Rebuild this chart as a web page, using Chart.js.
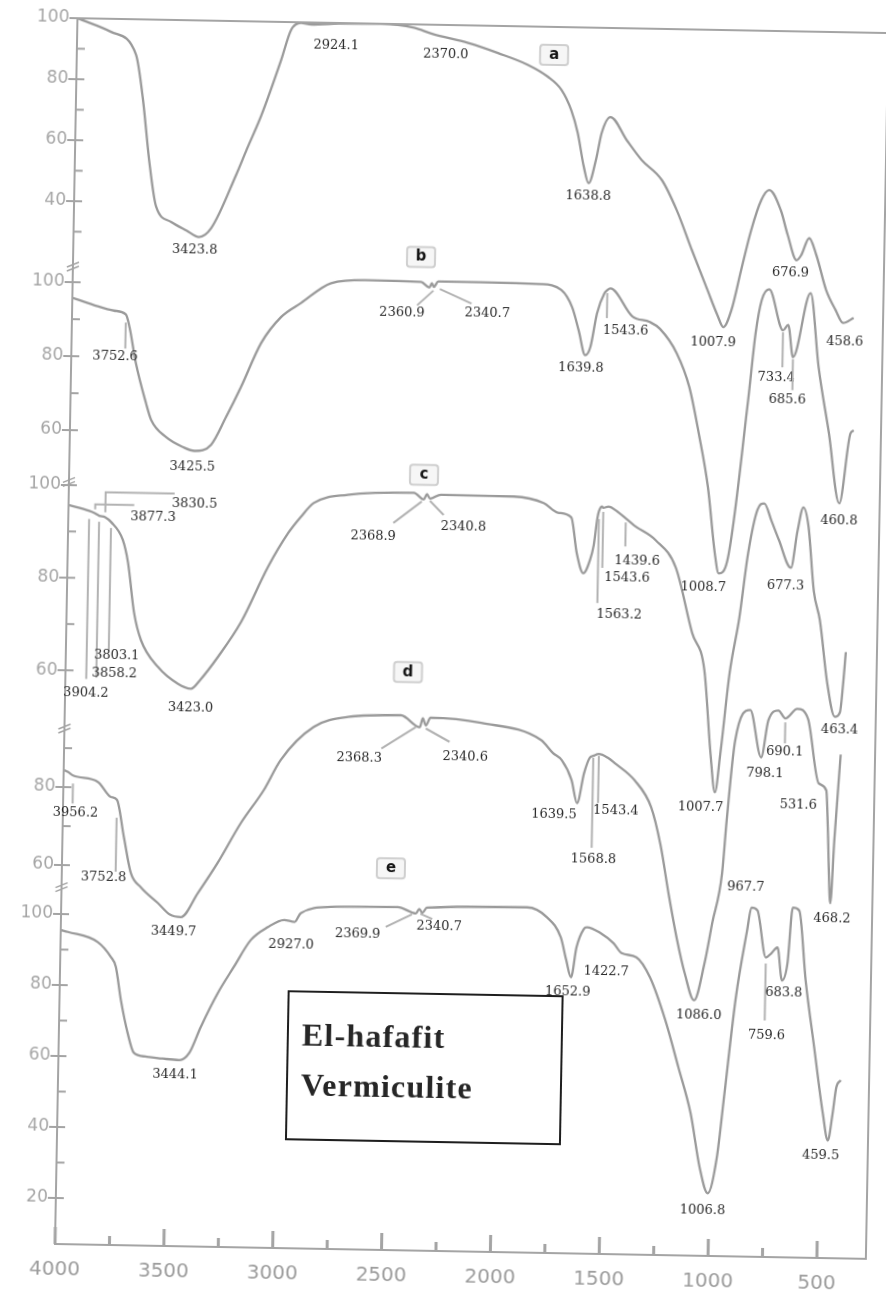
<!DOCTYPE html>
<html>
<head>
<meta charset="utf-8">
<title>FTIR spectra - El-hafafit vermiculite</title>
<script src="https://cdn.jsdelivr.net/npm/chart.js@4.4.1/dist/chart.umd.min.js"></script>
<style>
  html, body { margin: 0; padding: 0; background: #fff; overflow: hidden; }
  #wrap {
    position: relative; width: 886px; height: 1294px;
    transform: rotate(1.05deg); transform-origin: 443px 647px;
  }
  canvas { display: block; }
  #sample {
    position: absolute; left: 294px; top: 993px; width: 276px; height: 150px;
    box-sizing: border-box; border: 2px solid #1e1e1e;
    padding: 17px 0 0 13px;
    font: bold 32px "Liberation Serif", serif; line-height: 50px;
    color: #262626; letter-spacing: 1.2px;
  }
</style>
</head>
<body>
<div id="wrap">
  <canvas id="ftir" width="886" height="1294"></canvas>
  <div id="sample">El-hafafit<br>Vermiculite</div>
</div>
<script>
// --- Spectra (wavenumber cm-1 / transmittance %) ---
const waveA = [4000, 3844, 3728, 3692, 3659, 3623, 3553, 3480, 3423.8, 3368, 3258, 3212, 3147, 3061, 3018, 2973, 2924.1, 2800, 2605, 2453,
  2370.0, 2203, 2066, 1927, 1834, 1771, 1725, 1693, 1662, 1638.8, 1606, 1583, 1544, 1467, 1397, 1303, 1232, 1159, 1084, 1036,
  1007.9, 972, 931, 888, 844, 808, 754, 720, 676.9, 656, 621, 587, 539, 494, 458.6, 410];
const transA = [100, 95.7, 88.4, 73.6, 54, 38.7, 33.8, 31, 29, 32, 49.6, 57.9, 69.3, 87.5, 97.4, 99.8, 99.3, 99.8, 100, 98.9,
  97, 94.2, 91.1, 87.4, 83.6, 79.4, 72.9, 65.4, 54.3, 49, 57, 65.5, 70.8, 63.3, 56.9, 50.5, 40.7, 27.7, 14.7, 6.5,
  2.6, 8.3, 21.4, 34.6, 44.5, 47.8, 41.3, 33.2, 25, 26.7, 32.3, 26.8, 15.4, 8.9, 4.7, 6.4];

const waveB = [4000, 3900, 3807, 3752.6, 3734, 3703, 3653, 3628, 3558, 3480, 3425.5, 3351, 3284, 3218, 3129, 3040, 2949, 2813, 2658, 2400,
  2360.9, 2350, 2340.7, 2321, 2120, 1850, 1755, 1704, 1672, 1639.8, 1617, 1589, 1557, 1543.6, 1530, 1426, 1346, 1299, 1220, 1159,
  1112, 1065, 1028, 1008.7, 970, 888, 859, 834, 800, 733.4, 710, 685.6, 610, 567, 514, 460.8, 415, 400];
const transB = [95.8, 93.9, 92.5, 91.5, 87.9, 78.5, 67.7, 63.2, 58.6, 56, 55, 56.7, 64.3, 72.5, 84.5, 91.6, 95.5, 101, 102, 101.8,
  100.3, 101.5, 100.5, 102, 102, 101.8, 100.3, 95.7, 89.5, 82.8, 85, 94.2, 99.6, 100.5, 101, 93.5, 92.1, 90.3, 83.8, 74.7,
  62.3, 47.7, 29.9, 24.5, 28, 71.4, 89.6, 98.5, 101.5, 90.5, 92, 83.3, 100.7, 80.7, 62.9, 44, 63, 63.8];

const waveC = [4000, 3904.2, 3877.3, 3858.2, 3830.5, 3803.1, 3748, 3722, 3690, 3656, 3576, 3482, 3423.0, 3380, 3301, 3198, 3079, 2989, 2933, 2874,
  2719, 2415, 2368.9, 2355, 2340.8, 2291, 1956, 1818, 1752, 1690, 1662, 1630, 1600, 1585, 1570, 1563.2, 1550, 1543.6, 1520, 1480,
  1439.6, 1400, 1300, 1206, 1125, 1066, 1031, 1007.7, 985, 950, 910, 875, 835, 805, 770, 735, 677.3, 650, 625, 600,
  570, 540, 500, 463.4, 440, 428, 418];
const transC = [95.7, 94.5, 94, 93.5, 93.2, 92.2, 88.4, 83.5, 72.7, 66.8, 61.1, 57.5, 56.5, 58.5, 63.5, 71.1, 83.1, 90.5, 94, 97.1,
  99, 99.7, 98.3, 99.5, 98.5, 99.4, 99.3, 98, 96, 95, 87.3, 83, 86, 89, 95, 96.5, 97.5, 97.2, 97.5, 96.5,
  95, 93.5, 90.4, 84.6, 70.5, 62.5, 44.6, 36.2, 45, 62, 74, 88, 97.5, 98.8, 95, 91, 85, 93, 98.1, 94,
  80, 73.8, 60, 53, 54, 60, 67];

const waveD = [4000, 3980, 3956.2, 3842, 3781, 3752.8, 3718, 3683, 3636, 3556, 3500, 3449.7, 3373, 3285, 3182, 3079, 3004, 2855, 2699, 2456,
  2368.3, 2355, 2340.6, 2320, 2087, 1810, 1754, 1713, 1667, 1639.5, 1610, 1585, 1568.8, 1543.4, 1500, 1469, 1377, 1299, 1253, 1210,
  1170, 1130, 1086.0, 1041, 1009, 967.7, 951, 919, 852, 798.1, 768, 723, 690.1, 636, 586, 531.6, 496, 486, 472, 468.2,
  455, 433];
const transD = [84.4, 83.9, 83, 81.5, 77.7, 77, 67.5, 58.3, 54.7, 50.7, 47.8, 47.2, 53.5, 61.3, 71.6, 80.2, 88, 96.6, 99.3, 100,
  97, 99.3, 97.5, 99.5, 98.4, 94.3, 91, 89.2, 84.2, 78.3, 86, 90, 90.5, 91, 90, 88.7, 84.4, 77.6, 68, 55,
  44, 35, 28.3, 37.8, 48.1, 61, 74.6, 95, 103, 90.9, 100.4, 103, 101, 103.5, 101, 84.5, 82.7, 73.3, 55.4, 53.8,
  70, 92];

const waveE = [4000, 3967, 3829, 3768, 3744, 3718, 3684, 3654, 3600, 3520, 3444.1, 3400, 3349, 3273, 3202, 3126, 3049, 2975, 2927.0, 2899,
  2762, 2454, 2369.9, 2355, 2340.7, 2320, 1860, 1768, 1703, 1676, 1652.9, 1630, 1598, 1584, 1520, 1460, 1422.7, 1354, 1290, 1216,
  1152, 1092, 1046, 1006.8, 968, 940, 894, 848, 830, 802, 759.6, 735, 707, 683.8, 660, 640, 610, 575, 530, 485,
  459.5, 440, 425, 405];
const transE = [95.5, 95, 92.3, 88.2, 85.4, 76.1, 66.8, 61.3, 60.3, 59.8, 59.5, 61.5, 68.9, 78.6, 86, 93.7, 97.4, 99.5, 99, 101.5,
  103.4, 103.7, 102, 103.3, 102.2, 103.7, 104.3, 101.6, 96, 89.6, 84.8, 93.3, 98.5, 99, 97.4, 94.6, 91.9, 90.8, 85.2, 73.2,
  60, 47.1, 31.9, 24.7, 34.8, 51.8, 80, 98.9, 105.4, 104.6, 91.4, 92.6, 94.3, 85, 89.8, 105.6, 104.8, 85.2, 66.3, 47.8,
  40.2, 47.8, 55.2, 57.2];

const panelNames = ['a', 'b', 'c', 'd', 'e'];
const waves = [waveA, waveB, waveC, waveD, waveE];
const trans = [transA, transB, transC, transD, transE];

// --- Axis ticks ---
const xTickValues = [4000, 3500, 3000, 2500, 2000, 1500, 1000, 500];
const xMinorValues = [3750, 3250, 2750, 2250, 1750, 1250, 750];
const yMajor = [[100, 80, 60, 40], [100, 80, 60], [100, 80, 60], [80, 60], [100, 80, 60, 40, 20]];
const yMinor = [[90, 70, 50, 30], [90, 70], [90, 70], [90, 70], [90, 70, 50, 30]];

// --- Stacking: each trace gets its own offset and vertical gain ---
const panelLayout = [
  { base: 1226, k: 3.05 },
  { base: 962, k: 3.7 },
  { base: 759, k: 4.63 },
  { base: 535, k: 3.9 },
  { base: 330, k: 3.55 }
];
const letterSpots = [[1808, 90.8], [2402, 108.5], [2370, 103.6], [2427, 111.1], [2489, 114.6]];
const axisBreaks = [[1, 104.6], [2, 101], [3, 95.4], [4, 108]];

// peak notes: panel, wavenumber, offsets of the text and of its leader line
const peakNotes = [
  { p: 0, wn: 3423.8, dx: -4, dy: 13 },
  { p: 0, wn: 2924.1, dx: 25, dy: 20 },
  { p: 0, wn: 2370.0, dx: 14, dy: 20 },
  { p: 0, wn: 1638.8, dx: 0, dy: 13 },
  { p: 0, wn: 1007.9, dx: -10, dy: 16 },
  { p: 0, wn: 676.9, dx: -6, dy: 13 },
  { p: 0, wn: 458.6, dx: 2, dy: 19 },

  { p: 1, wn: 3752.6, dx: -10, dy: 42, path: [[0, 8], [0, 34]] },
  { p: 1, wn: 3425.5, dx: -2, dy: 16 },
  { p: 1, wn: 2360.9, dx: -27, dy: 26, path: [[-12, 18], [4, 3]] },
  { p: 1, wn: 2340.7, dx: 54, dy: 25, path: [[38, 16], [6, 2]] },
  { p: 1, wn: 1639.8, dx: -4, dy: 13 },
  { p: 1, wn: 1543.6, dx: 19, dy: 40, path: [[0, 3], [0, 28]] },
  { p: 1, wn: 1008.7, dx: -15, dy: 14 },
  { p: 1, wn: 733.4, dx: -6, dy: 47, path: [[0, 2], [0, 37]] },
  { p: 1, wn: 685.6, dx: -5, dy: 43, path: [[0, 2], [0, 33]] },
  { p: 1, wn: 460.8, dx: 0, dy: 17 },

  { p: 2, wn: 3904.2, dx: 0, dy: 182, path: [[0, 8], [0, 168]] },
  { p: 2, wn: 3858.2, dx: 18, dy: 158, path: [[0, 6], [0, 162]] },
  { p: 2, wn: 3803.1, dx: 8, dy: 134, path: [[0, 6], [0, 129]] },
  { p: 2, wn: 3830.5, dx: 89, dy: -15, path: [[0, -5], [0, -25], [69, -25]] },
  { p: 2, wn: 3877.3, dx: 58, dy: 3, path: [[0, -4], [0, -9], [39, -9]] },
  { p: 2, wn: 3423.0, dx: 0, dy: 19 },
  { p: 2, wn: 2368.9, dx: -50, dy: 38, path: [[-30, 24], [-2, 2]] },
  { p: 2, wn: 2340.8, dx: 34, dy: 28, path: [[0, 2], [14, 16]] },
  { p: 2, wn: 1563.2, dx: 22, dy: 103, path: [[0, 8], [0, 92]] },
  { p: 2, wn: 1543.6, dx: 25, dy: 70, path: [[0, 4], [0, 60]] },
  { p: 2, wn: 1439.6, dx: 12, dy: 42, path: [[0, 4], [0, 28]] },
  { p: 2, wn: 1007.7, dx: -14, dy: 15 },
  { p: 2, wn: 677.3, dx: -5, dy: 18 },
  { p: 2, wn: 463.4, dx: 5, dy: 13 },

  { p: 3, wn: 3956.2, dx: 3, dy: 37, path: [[0, 8], [0, 28]] },
  { p: 3, wn: 3752.8, dx: -12, dy: 78, path: [[0, 18], [0, 72]] },
  { p: 3, wn: 3449.7, dx: -7, dy: 15 },
  { p: 3, wn: 2368.3, dx: -60, dy: 32, path: [[-38, 22], [-4, 0]] },
  { p: 3, wn: 2340.6, dx: 40, dy: 31, path: [[0, 3], [24, 16]] },
  { p: 3, wn: 1639.5, dx: -23, dy: 12 },
  { p: 3, wn: 1568.8, dx: 2, dy: 104, path: [[0, 2], [0, 92]] },
  { p: 3, wn: 1543.4, dx: 18, dy: 57, path: [[0, 2], [0, 49]] },
  { p: 3, wn: 1086.0, dx: 5, dy: 15 },
  { p: 3, wn: 967.7, dx: 24, dy: 14 },
  { p: 3, wn: 798.1, dx: 4, dy: 16 },
  { p: 3, wn: 690.1, dx: 0, dy: 34, path: [[0, 4], [0, 25]] },
  { p: 3, wn: 531.6, dx: -20, dy: 22 },
  { p: 3, wn: 468.2, dx: 2, dy: 15 },

  { p: 4, wn: 3444.1, dx: -4, dy: 15 },
  { p: 4, wn: 2927.0, dx: -3, dy: 23 },
  { p: 4, wn: 2369.9, dx: -58, dy: 22, path: [[-30, 14], [-4, 1]] },
  { p: 4, wn: 2340.7, dx: 17, dy: 13, path: [[-2, 1], [10, 6]] },
  { p: 4, wn: 1652.9, dx: -3, dy: 15 },
  { p: 4, wn: 1422.7, dx: -15, dy: 19 },
  { p: 4, wn: 1006.8, dx: -5, dy: 17 },
  { p: 4, wn: 759.6, dx: 2, dy: 78, path: [[0, 6], [0, 63]] },
  { p: 4, wn: 683.8, dx: 2, dy: 12 },
  { p: 4, wn: 459.5, dx: -7, dy: 15 }
];

function toAxis(i, t) {
  return panelLayout[i].base + (t - 100) * panelLayout[i].k;
}

// transmittance of a trace at a given wavenumber (linear between points)
function transAt(i, wn) {
  const w = waves[i], t = trans[i];
  for (let j = 0; j < w.length - 1; j++) {
    if (wn <= w[j] && wn >= w[j + 1]) {
      const f = (w[j] - wn) / (w[j] - w[j + 1]);
      return t[j] + f * (t[j + 1] - t[j]);
    }
  }
  return t[t.length - 1];
}

const yTickList = [];
yMajor.forEach((list, i) => list.forEach(t => yTickList.push({ value: toAxis(i, t), label: String(t) })));

const datasets = panelNames.map((name, i) => ({
  label: name,
  data: waves[i].map((w, j) => ({ x: w, y: toAxis(i, trans[i][j]) })),
  borderColor: '#9a9a9a',
  borderWidth: 2.3,
  pointRadius: 0,
  cubicInterpolationMode: 'monotone',
  fill: false
}));

// --- Frame, inside ticks, panel letters and peak notes ---
const spectraDecor = {
  id: 'spectraDecor',
  afterDatasetsDraw(chart) {
    const { ctx, chartArea: ca, scales: { x, y } } = chart;
    const line = (x0, y0, x1, y1) => { ctx.beginPath(); ctx.moveTo(x0, y0); ctx.lineTo(x1, y1); ctx.stroke(); };
    ctx.save();

    ctx.strokeStyle = '#a4a4a4';
    ctx.lineWidth = 2;
    ctx.strokeRect(ca.left, ca.top, ca.right - ca.left, ca.bottom - ca.top);

    ctx.lineWidth = 3;
    xTickValues.forEach(v => { const px = x.getPixelForValue(v); line(px, ca.bottom, px, ca.bottom - 17); });
    xMinorValues.forEach(v => { const px = x.getPixelForValue(v); line(px, ca.bottom, px, ca.bottom - 9); });

    ctx.lineWidth = 2;
    yTickList.forEach(t => { const py = y.getPixelForValue(t.value); line(ca.left - 8, py, ca.left + 8, py); });
    yMinor.forEach((list, i) => list.forEach(t => {
      const py = y.getPixelForValue(toAxis(i, t));
      line(ca.left, py, ca.left + 8, py);
    }));

    ctx.lineWidth = 1.5;
    axisBreaks.forEach(([i, t]) => {
      const py = y.getPixelForValue(toAxis(i, t));
      line(ca.left - 6, py + 2, ca.left + 6, py - 3);
      line(ca.left - 6, py + 6, ca.left + 6, py + 1);
    });

    // panel letters
    letterSpots.forEach(([wn, t], i) => {
      const px = x.getPixelForValue(wn), py = y.getPixelForValue(toAxis(i, t));
      ctx.fillStyle = '#f6f6f6';
      ctx.strokeStyle = '#cfcfcf';
      ctx.lineWidth = 2;
      ctx.beginPath();
      ctx.roundRect(px - 14, py - 10, 28, 20, 3);
      ctx.fill();
      ctx.stroke();
      ctx.fillStyle = '#151515';
      ctx.font = 'bold 15px "DejaVu Sans"';
      ctx.textAlign = 'center';
      ctx.textBaseline = 'middle';
      ctx.fillText(panelNames[i], px, py);
    });

    // peak positions
    ctx.font = '13px "DejaVu Serif"';
    ctx.textAlign = 'center';
    ctx.textBaseline = 'middle';
    peakNotes.forEach(n => {
      const ax = x.getPixelForValue(n.wn);
      const ay = y.getPixelForValue(toAxis(n.p, transAt(n.p, n.wn)));
      if (n.path) {
        ctx.strokeStyle = '#b2b2b2';
        ctx.lineWidth = 2;
        ctx.beginPath();
        n.path.forEach(([px, py], j) => j ? ctx.lineTo(ax + px, ay + py) : ctx.moveTo(ax + px, ay + py));
        ctx.stroke();
      }
      ctx.fillStyle = '#2a2a2a';
      ctx.fillText(n.wn.toFixed(1), ax + n.dx, ay + n.dy);
    });

    ctx.restore();
  }
};

new Chart(document.getElementById('ftir'), {
  type: 'line',
  data: { datasets },
  options: {
    responsive: false,
    devicePixelRatio: 1,
    animation: false,
    events: [],
    layout: { padding: { top: 25, right: 9, bottom: 0, left: 0 } },
    plugins: { legend: { display: false }, tooltip: { enabled: false } },
    scales: {
      x: {
        type: 'linear',
        reverse: true,
        min: 275,
        max: 4000,
        afterBuildTicks: s => { s.ticks = xTickValues.map(v => ({ value: v })); },
        afterFit: s => { s.height = 43; },
        grid: { display: false },
        border: { display: false },
        ticks: {
          autoSkip: false,
          maxRotation: 0,
          padding: 6,
          color: '#9c9c9c',
          font: { family: 'DejaVu Sans', size: 20 },
          callback: v => String(v)
        }
      },
      y: {
        type: 'linear',
        min: 0,
        max: 1226,
        afterBuildTicks: s => { s.ticks = yTickList.map(t => ({ value: t.value })); },
        afterFit: s => { s.width = 66; },
        grid: { display: false, drawTicks: false },
        border: { display: false },
        ticks: {
          autoSkip: false,
          padding: 8,
          color: '#a6a6a6',
          font: { family: 'DejaVu Sans', size: 17 },
          callback: (v, i) => yTickList[i].label
        }
      }
    }
  },
  plugins: [spectraDecor]
});
</script>
</body>
</html>
